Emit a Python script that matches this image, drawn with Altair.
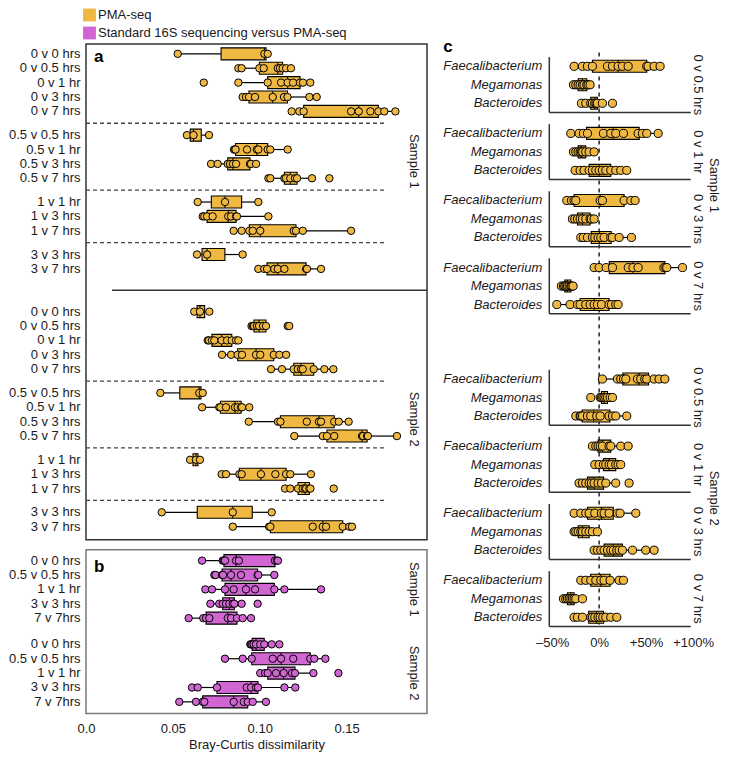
import altair as alt
import pandas as pd

# ---------------- data ----------------
ORANGE = "#EFB843"
PURPLE = "#D166D2"
SERIES = ["PMA-seq", "Standard 16S sequencing versus PMA-seq"]
SAMPLES = ["Sample 1", "Sample 2"]

A_GROUPS = [
    ["0 v 0 hrs", "0 v 0.5 hrs", "0 v 1 hr", "0 v 3 hrs", "0 v 7 hrs"],
    ["0.5 v 0.5 hrs", "0.5 v 1 hr", "0.5 v 3 hrs", "0.5 v 7 hrs"],
    ["1 v 1 hr", "1 v 3 hrs", "1 v 7 hrs"],
    ["3 v 3 hrs", "3 v 7 hrs"],
]

A_S1 = {
    "0 v 0 hrs": [0.0528, 0.1027, 0.1046],
    "0 v 0.5 hrs": [0.0877, 0.0896, 0.0998, 0.1023, 0.1104, 0.1117, 0.1132, 0.1152, 0.1180],
    "0 v 1 hr": [0.0678, 0.0877, 0.1046, 0.1123, 0.1161, 0.1192, 0.1232, 0.1249, 0.1291],
    "0 v 3 hrs": [0.0902, 0.0921, 0.0938, 0.0973, 0.1075, 0.1140, 0.1160, 0.1286, 0.1328],
    "0 v 7 hrs": [0.1184, 0.1228, 0.1253, 0.1526, 0.1570, 0.1637, 0.1683, 0.1717, 0.1781],
    "0.5 v 0.5 hrs": [0.0581, 0.0619, 0.0708],
    "0.5 v 1 hr": [0.0852, 0.0858, 0.0861, 0.0927, 0.0984, 0.0992, 0.1046, 0.1061, 0.1161],
    "0.5 v 3 hrs": [0.0720, 0.0758, 0.0816, 0.0829, 0.0846, 0.0864, 0.0944, 0.0950, 0.0979],
    "0.5 v 7 hrs": [0.1050, 0.1061, 0.1142, 0.1151, 0.1176, 0.1203, 0.1215, 0.1301, 0.1401],
    "1 v 1 hr": [0.0643, 0.0800, 0.0992],
    "1 v 3 hrs": [0.0672, 0.0681, 0.0697, 0.0729, 0.0819, 0.0835, 0.0864, 0.0869, 0.1050],
    "1 v 7 hrs": [0.0850, 0.0896, 0.0940, 0.0960, 0.1003, 0.1196, 0.1209, 0.1248, 0.1526],
    "3 v 3 hrs": [0.0639, 0.0697, 0.0902],
    "3 v 7 hrs": [0.0992, 0.1026, 0.1042, 0.1084, 0.1104, 0.1142, 0.1267, 0.1272, 0.1353],
}
A_S2 = {
    "0 v 0 hrs": [0.0623, 0.0656, 0.0710],
    "0 v 0.5 hrs": [0.0953, 0.0961, 0.0967, 0.0984, 0.0996, 0.1019, 0.1036, 0.1161, 0.1170],
    "0 v 1 hr": [0.0701, 0.0708, 0.0725, 0.0739, 0.0781, 0.0812, 0.0839, 0.0864, 0.0877],
    "0 v 3 hrs": [0.0783, 0.0835, 0.0873, 0.0898, 0.0979, 0.1003, 0.1081, 0.1113, 0.1152],
    "0 v 7 hrs": [0.1065, 0.1128, 0.1196, 0.1219, 0.1238, 0.1248, 0.1311, 0.1372, 0.1424],
    "0.5 v 0.5 hrs": [0.0428, 0.0652, 0.0672],
    "0.5 v 1 hr": [0.0668, 0.0767, 0.0774, 0.0806, 0.0858, 0.0873, 0.0893, 0.0898, 0.0940],
    "0.5 v 3 hrs": [0.0937, 0.1105, 0.1119, 0.1271, 0.1341, 0.1353, 0.1429, 0.1455, 0.1512],
    "0.5 v 7 hrs": [0.1199, 0.1363, 0.1387, 0.1429, 0.1589, 0.1595, 0.1618, 0.1623, 0.1790],
    "1 v 1 hr": [0.0599, 0.0633, 0.0656],
    "1 v 3 hrs": [0.0781, 0.0806, 0.0883, 0.0896, 0.1007, 0.1090, 0.1152, 0.1176, 0.1295],
    "1 v 7 hrs": [0.1146, 0.1176, 0.1221, 0.1248, 0.1261, 0.1267, 0.1286, 0.1292, 0.1426],
    "3 v 3 hrs": [0.0436, 0.0845, 0.1069],
    "3 v 7 hrs": [0.0845, 0.1054, 0.1061, 0.1305, 0.1363, 0.1382, 0.1478, 0.1516, 0.1531],
}

B_LABELS = ["0 v 0 hrs", "0.5 v 0.5 hrs", "1 v 1 hr", "3 v 3 hrs", "7 v 7hrs"]
B_S1 = [
    [0.0668, 0.0787, 0.0794, 0.0800, 0.0864, 0.0880, 0.1088, 0.1100, 0.1105],
    [0.0739, 0.0746, 0.0783, 0.0789, 0.0835, 0.0892, 0.0988, 0.0992, 0.1084],
    [0.0687, 0.0725, 0.0800, 0.0850, 0.0921, 0.0973, 0.1084, 0.1142, 0.1353],
    [0.0716, 0.0767, 0.0787, 0.0806, 0.0825, 0.0845, 0.0854, 0.0896, 0.0988],
    [0.0591, 0.0675, 0.0691, 0.0710, 0.0816, 0.0835, 0.0869, 0.0902, 0.0950],
]
B_S2 = [
    [0.0946, 0.0950, 0.0956, 0.0965, 0.0979, 0.1003, 0.1026, 0.1069, 0.1113],
    [0.0800, 0.0902, 0.0954, 0.1075, 0.1123, 0.1193, 0.1291, 0.1314, 0.1378],
    [0.1003, 0.1031, 0.1046, 0.1094, 0.1138, 0.1186, 0.1203, 0.1309, 0.1453],
    [0.0610, 0.0643, 0.0754, 0.0925, 0.0950, 0.0979, 0.0990, 0.1142, 0.1205],
    [0.0537, 0.0633, 0.0672, 0.0681, 0.0850, 0.0908, 0.0931, 0.0960, 0.1036],
]

C_COMPARISONS = ["0 v 0.5 hrs", "0 v 1 hr", "0 v 3 hrs", "0 v 7 hrs"]
C_GENERA = ["Faecalibacterium", "Megamonas", "Bacteroides"]
C_S1 = [
    [[-0.266, -0.177, -0.124, -0.071, 0.089, 0.142, 0.202, 0.248, 0.309, 0.507, 0.521, 0.585, 0.649],
     [-0.273, -0.248, -0.223, -0.202, -0.177, -0.160, -0.131, -0.117, -0.096],
     [-0.188, -0.142, -0.089, -0.071, -0.046, -0.032, -0.018, 0.035, 0.142]],
    [[-0.301, -0.213, -0.167, -0.124, 0.046, 0.124, 0.177, 0.259, 0.415, 0.461, 0.507, 0.628],
     [-0.273, -0.248, -0.223, -0.202, -0.188, -0.174, -0.142, -0.106, -0.053],
     [-0.255, -0.202, -0.160, -0.106, -0.071, -0.035, 0.000, 0.035, 0.071, 0.124, 0.177, 0.230, 0.294]],
    [[-0.344, -0.294, -0.266, -0.248, 0.011, 0.035, 0.266, 0.337, 0.383],
     [-0.284, -0.259, -0.230, -0.202, -0.177, -0.142, -0.096, -0.082, -0.053],
     [-0.195, -0.167, -0.124, -0.071, -0.046, -0.011, 0.018, 0.053, 0.124, 0.142, 0.213, 0.344]],
    [[-0.053, 0.000, 0.075, 0.142, 0.310, 0.360, 0.415, 0.690, 0.710, 0.720, 0.887],
     [-0.401, -0.379, -0.365, -0.351, -0.337, -0.319, -0.301, -0.291, -0.277],
     [-0.450, -0.309, -0.230, -0.202, -0.142, -0.096, -0.053, -0.018, 0.025, 0.106, 0.131, 0.177, 0.202]],
]
C_S2 = [
    [[0.035, 0.195, 0.230, 0.259, 0.284, 0.408, 0.443, 0.486, 0.507, 0.585, 0.638, 0.699],
     [-0.089, 0.011, 0.025, 0.039, 0.053, 0.071, 0.089, 0.117, 0.142],
     [-0.248, -0.202, -0.195, -0.177, -0.124, -0.089, -0.025, 0.011, 0.106, 0.142, 0.177, 0.294]],
    [[-0.071, -0.035, -0.011, 0.011, 0.035, 0.106, 0.124, 0.230, 0.309],
     [-0.046, 0.000, 0.046, 0.071, 0.106, 0.131, 0.177, 0.202, 0.230],
     [-0.213, -0.177, -0.142, -0.106, -0.082, -0.053, -0.011, 0.025, 0.071, 0.177, 0.319]],
    [[-0.266, -0.195, -0.142, -0.106, -0.046, 0.025, 0.053, 0.106, 0.195, 0.223, 0.390],
     [-0.266, -0.248, -0.223, -0.195, -0.177, -0.142, -0.106, -0.071, -0.018],
     [-0.053, -0.018, 0.018, 0.053, 0.089, 0.124, 0.152, 0.188, 0.213, 0.248, 0.355, 0.496, 0.585]],
    [[-0.195, -0.142, -0.089, -0.035, 0.018, 0.053, 0.117, 0.213, 0.259],
     [-0.379, -0.355, -0.337, -0.319, -0.301, -0.284, -0.266, -0.248, -0.177],
     [-0.266, -0.230, -0.177, -0.089, -0.071, -0.046, -0.011, 0.011, 0.039, 0.071, 0.124, 0.188]],
]

A_TICKS = [0.0, 0.05, 0.10, 0.15]
C_TICKS = [-0.5, 0.0, 0.5, 1.0]

# ---------------- layout constants ----------------
FONT = "Liberation Sans"
UNIT_L = 14.6            # px per row, left column
L_W = 341
C_W, C_H = 143.8, 592.5
A_XMAX = 0.1963
A_GROUP_GAP, A_SAMPLE_GAP = 1.65, 2.97
A_PAD_TOP, A_PAD_BOT = 0.685, 0.9
PANEL_GAP = 0.705
B_PAD_TOP, B_PAD_BOT = 0.753, 0.8
B_SAMPLE_GAP = 1.82
C_PITCH, C_SAMPLE_EXTRA = 3.63, 2.4
C_XMIN, C_XMAX, C_LINE_END = -0.53, 1.0, 0.975

# ---------------- build tables (left column: panels a and b) ----------------
rows, seps, pts, samples_l = [], [], [], []
last = None
for si, sample in enumerate(SAMPLES):
    vals = A_S1 if si == 0 else A_S2
    first = None
    for gi, group in enumerate(A_GROUPS):
        cur = 0.0
        if last is not None:
            gap = A_SAMPLE_GAP if gi == 0 else A_GROUP_GAP
            if gi == 0:
                seps.append({"pos": last + gap / 2, "x0": 0.015, "x1": A_XMAX, "kind": "solid"})
            else:
                seps.append({"pos": last + gap / 2, "x0": 0.0, "x1": 0.173, "kind": "dashed"})
            cur = last + gap
        for label in group:
            rows.append({"label": label, "pos": cur})
            first = cur if first is None else first
            for v in vals[label]:
                pts.append({"pos": cur, "value": v, "series": SERIES[0], "panel": "a"})
            last = cur
            cur += 1
    samples_l.append({"sample": sample, "pos": (first + last) / 2})

A_TOP, A_BOT = -A_PAD_TOP, last + A_PAD_BOT
B_TOP = A_BOT + PANEL_GAP
b_first = B_TOP + B_PAD_TOP
for si, sample in enumerate(SAMPLES):
    vals = B_S1 if si == 0 else B_S2
    ps = []
    for li, label in enumerate(B_LABELS):
        p = b_first + si * (len(B_LABELS) - 1 + B_SAMPLE_GAP) + li
        ps.append(p)
        rows.append({"label": label, "pos": p})
        for v in vals[li]:
            pts.append({"pos": p, "value": v, "series": SERIES[1], "panel": "b"})
    samples_l.append({"sample": sample, "pos": (ps[0] + ps[-1]) / 2})
    last = ps[-1]
B_BOT = last + B_PAD_BOT

frames = pd.DataFrame([
    {"panel": "a", "x0": 0.0, "x1": A_XMAX, "y0": A_TOP, "y1": A_BOT},
    {"panel": "b", "x0": 0.0, "x1": A_XMAX, "y0": B_TOP, "y1": B_BOT},
])
letters_l = pd.DataFrame([
    {"t": "a", "pos": A_TOP + 18.3 / UNIT_L},
    {"t": "b", "pos": B_TOP + 22.4 / UNIT_L},
])
rows = pd.DataFrame(rows)
seps = pd.DataFrame(seps)
pts = pd.DataFrame(pts)
samples_l = pd.DataFrame(samples_l)
L_H = (B_BOT - A_TOP) * UNIT_L

# ---------------- build tables (panel c) ----------------
c_rows, c_pts, c_subs = [], [], []
for si, sample in enumerate(SAMPLES):
    vals = C_S1 if si == 0 else C_S2
    for ci, comp in enumerate(C_COMPARISONS):
        base = si * (len(C_COMPARISONS) * C_PITCH + C_SAMPLE_EXTRA) + ci * C_PITCH
        c_subs.append({"sample": sample, "comp": comp, "top": base - 0.5, "bottom": base + 2.5,
                       "mid": base + 1, "xl": C_XMIN, "xr": C_LINE_END})
        for gi, genus in enumerate(C_GENERA):
            c_rows.append({"genus": genus, "pos": base + gi})
            for v in vals[ci][gi]:
                c_pts.append({"pos": base + gi, "value": v, "series": SERIES[0]})
c_rows = pd.DataFrame(c_rows)
c_pts = pd.DataFrame(c_pts)
c_subs = pd.DataFrame(c_subs)
c_samples = c_subs.groupby("sample", as_index=False).agg(top=("top", "min"), bottom=("bottom", "max"))
c_samples["mid"] = (c_samples.top + c_samples.bottom) / 2
C_Y0, C_Y1 = c_subs.top.min() - 0.707, c_subs.bottom.max()
c_zero = pd.DataFrame({"x": [0.0], "y0": [c_subs.top.min() - 0.25], "y1": [C_Y1]})
c_letter = pd.DataFrame({"t": ["c"], "pos": [C_Y0 + 8 / 18.8]})

# ---------------- scales & axes ----------------
color_scale = alt.Scale(domain=SERIES, range=[ORANGE, PURPLE])
xl = alt.Scale(domain=[0, A_XMAX], nice=False, zero=False)
yl = alt.Scale(domain=[A_TOP, B_BOT], nice=False, zero=False, reverse=True)
xc = alt.Scale(domain=[C_XMIN, C_XMAX], nice=False, zero=False)
yc = alt.Scale(domain=[C_Y0, C_Y1], nice=False, zero=False, reverse=True)

x_axis_l = alt.Axis(values=A_TICKS, labelExpr="datum.value == 0 ? '0.0' : format(datum.value, '.2f')",
                    tickSize=0, ticks=False, domain=False, grid=False, labelPadding=4, labelFlush=False,
                    labelFontSize=13, title="Bray-Curtis dissimilarity", titleFontSize=13,
                    titleFontWeight="normal", titlePadding=3, labelColor="#1a1a1a", titleColor="#1a1a1a")
x_axis_c = alt.Axis(values=C_TICKS,
                    labelExpr="datum.value > 0 ? '+' + format(datum.value, '.0%') : (datum.value < 0 ? '\u2013' + format(-datum.value, '.0%') : '0%')",
                    tickSize=0, ticks=False, domain=False, grid=False, labelPadding=5, labelFlush=False,
                    labelFontSize=13, title="", labelColor="#1a1a1a")


def boxes(df, fill, xscale, yscale, xaxis):
    return alt.Chart(df).mark_boxplot(
        orient="horizontal", extent=1.5, size=12, outliers=False, ticks=False,
        box={"fill": fill, "stroke": "black", "strokeWidth": 1.1, "opacity": 1},
        median={"color": "black", "strokeWidth": 1.4, "opacity": 1},
        rule={"color": "black", "strokeWidth": 1.2},
    ).encode(
        x=alt.X("value:Q", scale=xscale, axis=xaxis),
        y=alt.Y("pos:Q", scale=yscale, axis=None),
    )


def points(df, xscale, yscale, size, xaxis, legend=None):
    return alt.Chart(df).mark_circle(size=size, stroke="black", strokeWidth=1, opacity=1).encode(
        x=alt.X("value:Q", scale=xscale, axis=xaxis),
        y=alt.Y("pos:Q", scale=yscale, axis=None),
        color=alt.Color("series:N", scale=color_scale, legend=legend),
    )


def row_labels(df, yscale, field, dx, italic=False):
    return alt.Chart(df).mark_text(align="right", baseline="middle", fontSize=13,
                                   fontStyle="italic" if italic else "normal", color="#1a1a1a").encode(
        x=alt.value(dx), y=alt.Y("pos:Q", scale=yscale, axis=None), text=f"{field}:N")


def side_labels(df, yscale, field, ypos, xpx):
    return alt.Chart(df).mark_text(angle=90, align="center", baseline="middle", fontSize=13,
                                   color="#1a1a1a").encode(
        x=alt.value(xpx), y=alt.Y(f"{ypos}:Q", scale=yscale, axis=None), text=f"{field}:N")


def letters(df, yscale, xpx):
    return alt.Chart(df).mark_text(align="left", baseline="alphabetic", fontSize=17,
                                   fontWeight="bold", color="black").encode(
        x=alt.value(xpx), y=alt.Y("pos:Q", scale=yscale, axis=None), text="t:N")


# ---------------- left column (panels a + b) ----------------
legend = alt.Legend(title=None, orient="none", legendX=-3, legendY=-30.5, symbolType="square",
                    symbolSize=165, symbolStrokeWidth=0, symbolOpacity=1, labelFontSize=13,
                    rowPadding=4, labelOffset=2, padding=0, labelLimit=400, labelColor="#1a1a1a")


def frame(panel, color):
    return alt.Chart(frames[frames.panel == panel]).mark_rect(
        fill="transparent", stroke=color, strokeWidth=1.5).encode(
        x=alt.X("x0:Q", scale=xl, axis=x_axis_l), x2="x1:Q",
        y=alt.Y("y0:Q", scale=yl, axis=None), y2="y1:Q")


l_dashed = alt.Chart(seps[seps.kind == "dashed"]).mark_rule(
    color="#444444", strokeWidth=1.3, strokeDash=[4, 3]).encode(
    x=alt.X("x0:Q", scale=xl, axis=x_axis_l), x2="x1:Q", y=alt.Y("pos:Q", scale=yl, axis=None))
l_solid = alt.Chart(seps[seps.kind == "solid"]).mark_rule(
    color="#333333", strokeWidth=1.5).encode(
    x=alt.X("x0:Q", scale=xl, axis=x_axis_l), x2="x1:Q", y=alt.Y("pos:Q", scale=yl, axis=None))

left = alt.layer(
    frame("a", "#333333"), frame("b", "#7a7a7a"),
    l_dashed, l_solid,
    boxes(pts[pts.panel == "a"], ORANGE, xl, yl, x_axis_l),
    boxes(pts[pts.panel == "b"], PURPLE, xl, yl, x_axis_l),
    points(pts, xl, yl, 55, x_axis_l, legend=legend),
    row_labels(rows, yl, "label", -5.5),
    side_labels(samples_l, yl, "sample", "pos", L_W - 13),
    letters(letters_l, yl, 8),
).properties(width=L_W, height=L_H)

# ---------------- panel c ----------------
c_zero_rule = alt.Chart(c_zero).mark_rule(color="black", strokeWidth=1.3, strokeDash=[4, 4]).encode(
    x=alt.X("x:Q", scale=xc, axis=x_axis_c), y=alt.Y("y0:Q", scale=yc, axis=None), y2="y1:Q")
c_left = alt.Chart(c_subs).mark_rule(color="#333333", strokeWidth=1.5).encode(
    x=alt.X("xl:Q", scale=xc, axis=x_axis_c), y=alt.Y("top:Q", scale=yc, axis=None), y2="bottom:Q")
c_bottom = alt.Chart(c_subs).mark_rule(color="#333333", strokeWidth=1.5).encode(
    x=alt.X("xl:Q", scale=xc, axis=x_axis_c), x2="xr:Q", y=alt.Y("bottom:Q", scale=yc, axis=None))

panel_c = alt.layer(
    c_zero_rule, c_left, c_bottom,
    boxes(c_pts, ORANGE, xc, yc, x_axis_c),
    points(c_pts, xc, yc, 66, x_axis_c),
    row_labels(c_rows, yc, "genus", -7, italic=True),
    side_labels(c_subs, yc, "comp", "mid", C_W + 5),
    side_labels(c_samples, yc, "sample", "mid", C_W + 21),
    letters(c_letter, yc, -106),
).properties(width=C_W, height=C_H)

chart = alt.hconcat(left, panel_c, spacing=122.3, bounds="flush").properties(
    padding=0
).configure(font=FONT).configure_view(stroke="transparent").configure_axis(grid=False)

chart.save("out.html", embed_options={"renderer": "svg", "actions": False})
